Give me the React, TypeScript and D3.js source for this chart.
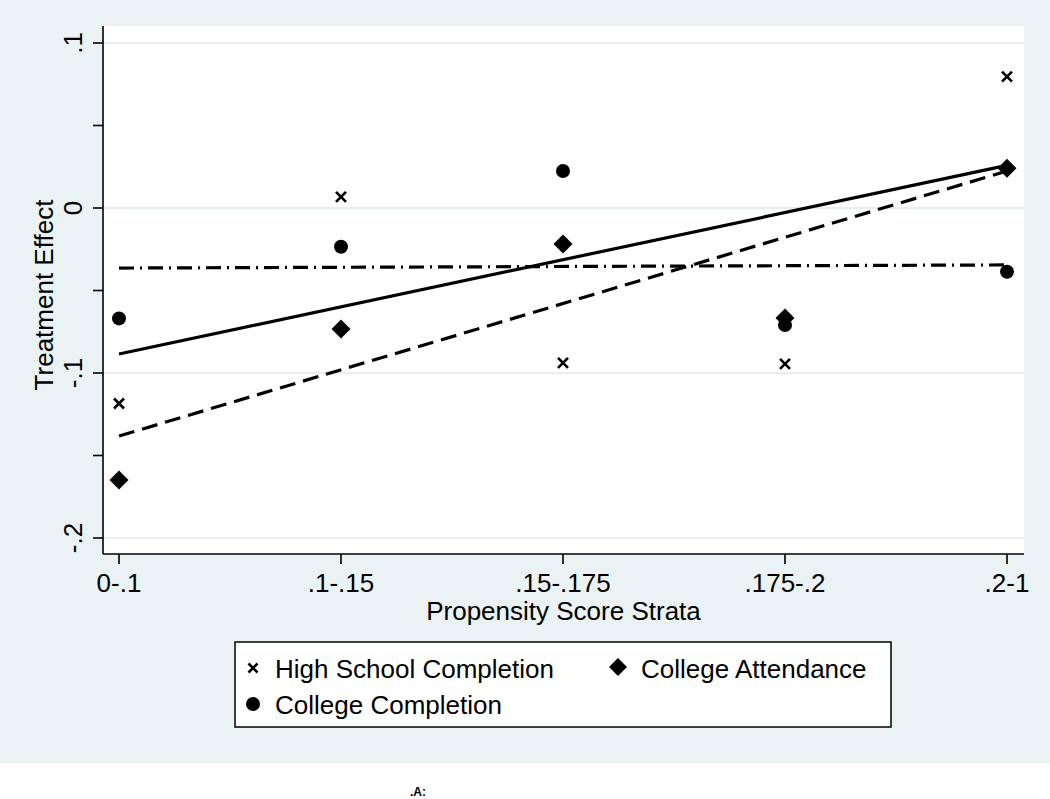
import React from "react";
import * as d3 from "d3";

const strata = ["0-.1", ".1-.15", ".15-.175", ".175-.2", ".2-1"];
const highSchool = [-0.1185, 0.0067, -0.0939, -0.0945, 0.0796];
const collegeAttendance = [-0.1648, -0.0733, -0.0218, -0.0667, 0.0241];
const collegeCompletion = [-0.0669, -0.0235, 0.0224, -0.0709, -0.0386];
// linear-fit lines: value at first and at last stratum
const highSchoolFit = [-0.0885, 0.0258];
const collegeAttendanceFit = [-0.1382, 0.0224];
const collegeCompletionFit = [-0.0364, -0.0345];
const yTicks = [0.1, 0, -0.1, -0.2];
const yMinorTicks = [0.05, -0.05, -0.15];
const yTickLabels = [".1", "0", "-.1", "-.2"];

const W = 1050;
const H = 799;
const plot = { left: 103, right: 1024, top: 26, bottom: 554 };
const font = "'Liberation Sans', Arial, Helvetica, sans-serif";

function XMark({ x, y, s = 5 }: { x: number; y: number; s?: number }) {
  return (
    <g stroke="#000" strokeWidth={2.6} strokeLinecap="butt">
      <line x1={x - s} y1={y - s} x2={x + s} y2={y + s} />
      <line x1={x - s} y1={y + s} x2={x + s} y2={y - s} />
    </g>
  );
}
function Diamond({ x, y, r = 9.5 }: { x: number; y: number; r?: number }) {
  return <path d={`M${x},${y - r}L${x + r},${y}L${x},${y + r}L${x - r},${y}Z`} fill="#000" />;
}
function Dot({ x, y, r = 7 }: { x: number; y: number; r?: number }) {
  return <circle cx={x} cy={y} r={r} fill="#000" />;
}

export default function App() {
  const x = d3.scalePoint<string>().domain(strata).range([119, 1007]);
  const y = d3.scaleLinear().domain([-0.2, 0.1]).range([538, 43]);
  const first = strata[0];
  const last = strata[strata.length - 1];
  const fitLine = (v: number[]) =>
    d3.line<[string, number]>().x((d) => x(d[0]) as number).y((d) => y(d[1]))([
      [first, v[0]],
      [last, v[1]],
    ]) as string;

  return (
    <svg
      width={W}
      height={H}
      style={{ position: "absolute", left: 0, top: 0, background: "#fff" }}
      fontFamily={font}
    >
      <rect x={0} y={0} width={W} height={763} fill="#eaf2f3" />
      <rect x={plot.left} y={plot.top} width={plot.right - plot.left} height={plot.bottom - plot.top} fill="#fff" />
      {/* gridlines */}
      {yTicks.map((t) => (
        <line key={"g" + t} x1={plot.left} x2={plot.right} y1={y(t)} y2={y(t)} stroke="#e6eef0" strokeWidth={2.2} />
      ))}
      {/* axes */}
      <line x1={plot.left} x2={plot.left} y1={plot.top} y2={plot.bottom} stroke="#000" strokeWidth={1.6} />
      <line x1={plot.left} x2={plot.right} y1={plot.bottom} y2={plot.bottom} stroke="#000" strokeWidth={1.6} />
      {[...yTicks, ...yMinorTicks].map((t) => (
        <line key={"t" + t} x1={plot.left - 10} x2={plot.left} y1={y(t)} y2={y(t)} stroke="#000" strokeWidth={1.6} />
      ))}
      {yTicks.map((t, i) => (
        <text
          key={"l" + t}
          transform={`translate(82,${y(t)}) rotate(-90)`}
          textAnchor="middle"
          fontSize={26}
          fill="#000"
        >
          {yTickLabels[i]}
        </text>
      ))}
      {strata.map((s) => (
        <g key={"x" + s}>
          <line x1={x(s)} x2={x(s)} y1={plot.bottom} y2={plot.bottom + 10} stroke="#000" strokeWidth={1.6} />
          <text x={x(s)} y={592} textAnchor="middle" fontSize={26} fill="#000">
            {s}
          </text>
        </g>
      ))}
      <text x={(plot.left + plot.right) / 2} y={620} textAnchor="middle" fontSize={26} fill="#000">
        Propensity Score Strata
      </text>
      <text transform={`translate(53,295) rotate(-90)`} textAnchor="middle" fontSize={26} fill="#000">
        Treatment Effect
      </text>

      {/* fit lines */}
      <path d={fitLine(highSchoolFit)} stroke="#000" strokeWidth={3.2} fill="none" />
      <path d={fitLine(collegeAttendanceFit)} stroke="#000" strokeWidth={3.2} fill="none" strokeDasharray="16 8" />
      <path d={fitLine(collegeCompletionFit)} stroke="#000" strokeWidth={3.2} fill="none" strokeDasharray="15 6 2 6" />

      {/* markers */}
      {strata.map((s, i) => (
        <XMark key={"hs" + s} x={x(s) as number} y={y(highSchool[i])} />
      ))}
      {strata.map((s, i) => (
        <Diamond key={"ca" + s} x={x(s) as number} y={y(collegeAttendance[i])} />
      ))}
      {strata.map((s, i) => (
        <Dot key={"cc" + s} x={x(s) as number} y={y(collegeCompletion[i])} />
      ))}

      {/* legend */}
      <rect x={235} y={642} width={656} height={85} fill="#fff" stroke="#000" strokeWidth={1.5} />
      <XMark x={253} y={668} s={4.5} />
      <text x={275} y={678} fontSize={26} fill="#000">High School Completion</text>
      <Diamond x={618} y={667} r={9} />
      <text x={641} y={678} fontSize={26} fill="#000">College Attendance</text>
      <Dot x={253} y={704} r={7} />
      <text x={275} y={714} fontSize={26} fill="#000">College Completion</text>

      <text x={410} y={796} fontSize={12} fontWeight="bold" fill="#000">.A:</text>
    </svg>
  );
}
